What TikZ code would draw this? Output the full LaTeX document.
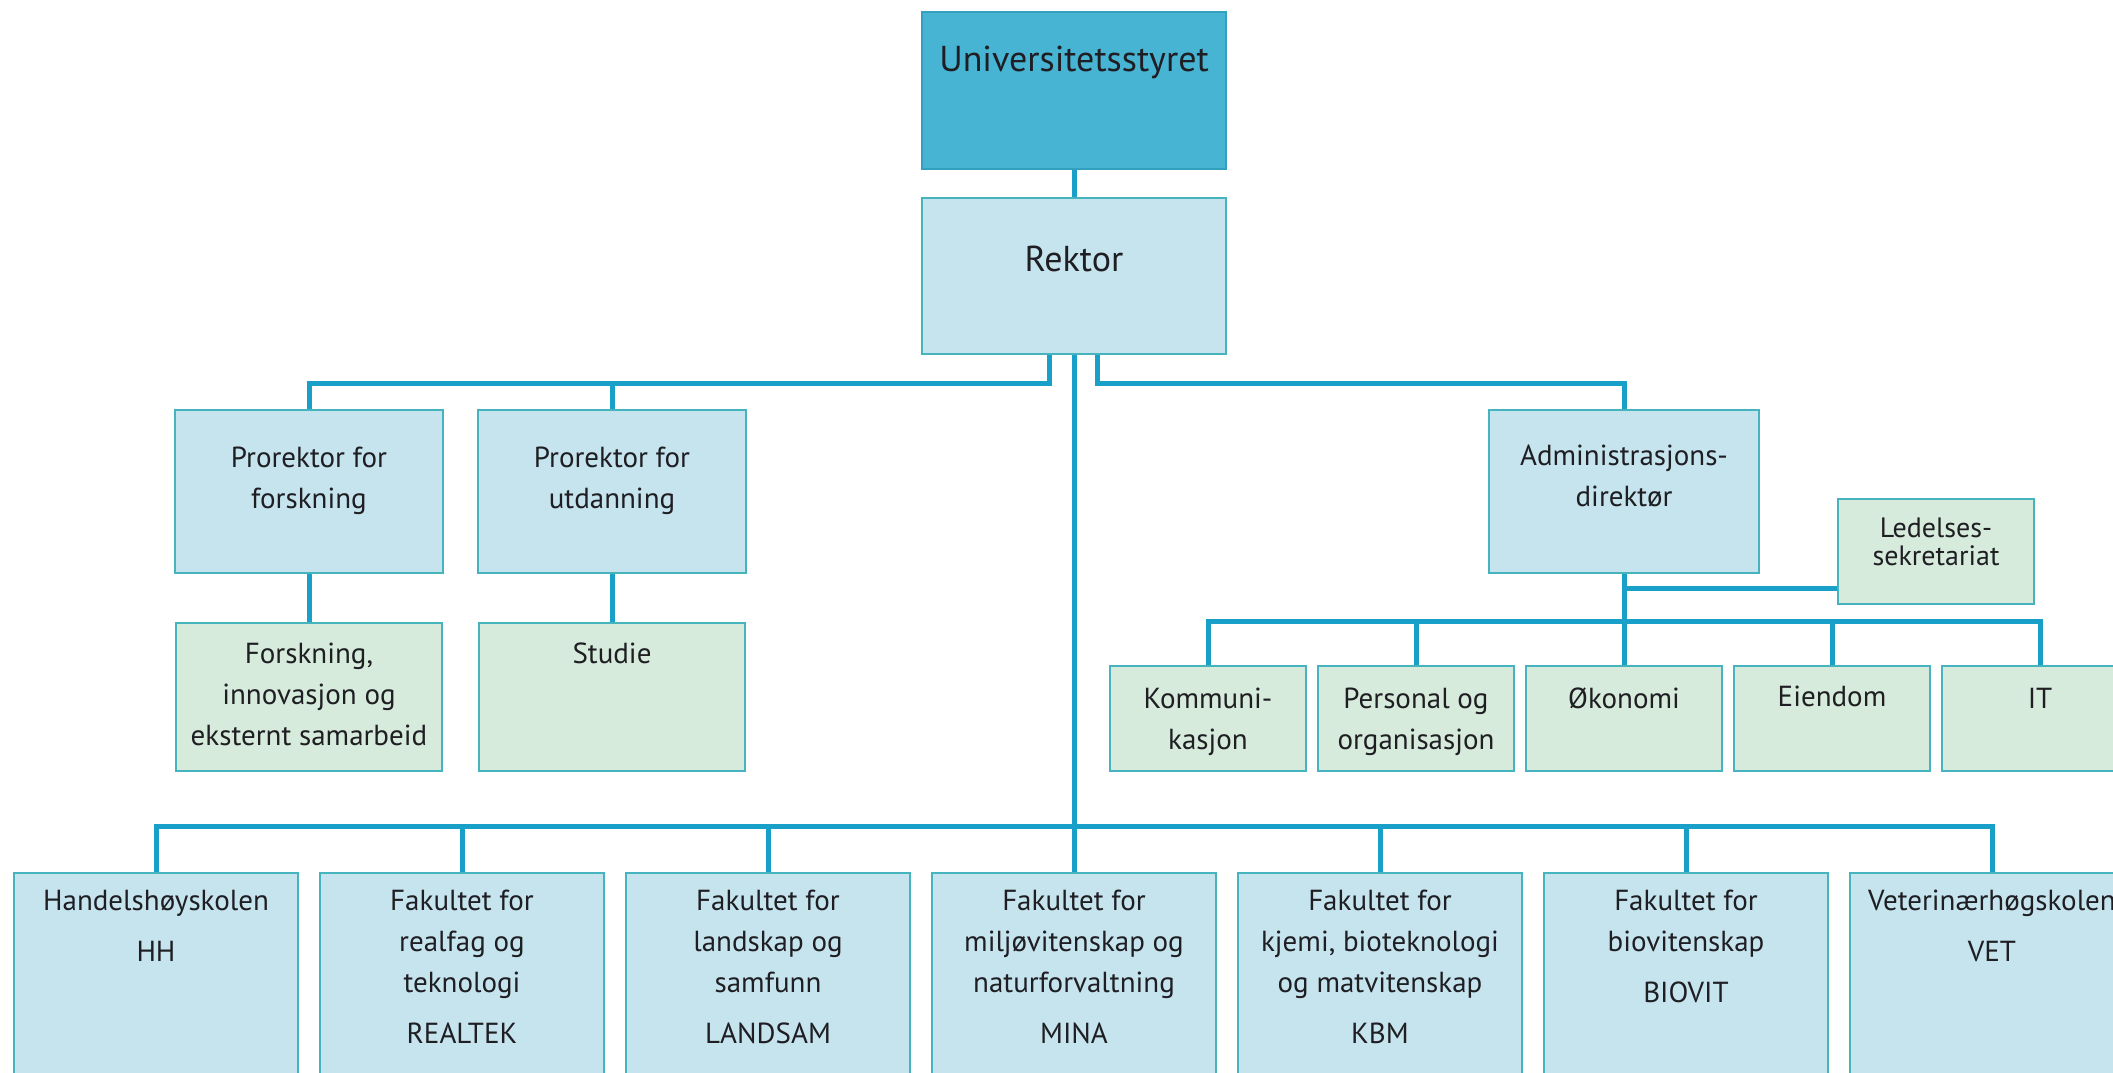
\documentclass[tikz,border=0pt]{standalone}
\usepackage{fontspec}
\setmainfont{PT Sans}
\usetikzlibrary{calc}
\definecolor{conncol}{RGB}{25,160,200}
\definecolor{edgecol}{RGB}{70,180,190}
\definecolor{topfill}{RGB}{72,180,212}
\definecolor{topedge}{RGB}{50,160,190}
\definecolor{bluefill}{RGB}{198,228,238}
\definecolor{greenfill}{RGB}{214,235,219}
\definecolor{txtcol}{RGB}{30,30,35}
\newcommand\firstln{\rule{0pt}{30pt}}
\begin{document}
\begin{tikzpicture}[x=1pt,y=-1pt,
  boxbase/.style={rectangle, inner sep=0pt, draw=edgecol, line width=1.3pt},
  topbox/.style={boxbase, fill=topfill, draw=topedge},
  bluebox/.style={boxbase, fill=bluefill},
  greenbox/.style={boxbase, fill=greenfill},
  conn/.style={draw=conncol, line width=5pt},
  bodytext/.style={inner sep=0pt, anchor=north, align=center, text=txtcol,
    font=\fontsize{29}{41}\selectfont},
  smalltext/.style={bodytext, font=\fontsize{28}{28}\selectfont},
  bigtext/.style={inner sep=0pt, anchor=base, text=txtcol, font=\fontsize{36}{40}\selectfont}
]
\useasboundingbox (0,0) rectangle (2113,1073);
\clip (0,0) rectangle (2113,1073);
\fill[white] (0,0) rectangle (2113,1073);

% ---- boxes ----
\node[topbox, minimum width=304, minimum height=157] (univ) at (1074,90.5) {};
\node[bluebox, minimum width=304, minimum height=156] (rektor) at (1074,276) {};

\node[bluebox, minimum width=268, minimum height=163] (prf) at (309,491.5) {};
\node[bluebox, minimum width=268, minimum height=163] (pru) at (612,491.5) {};
\node[greenbox, minimum width=266, minimum height=148] (fik) at (309,697) {};
\node[greenbox, minimum width=266, minimum height=148] (stud) at (612,697) {};

\node[bluebox, minimum width=270, minimum height=163] (adm) at (1624,491.5) {};
\node[greenbox, minimum width=196, minimum height=105] (led) at (1936,551.5) {};
\node[greenbox, minimum width=196, minimum height=105] (kom) at (1208,718.5) {};
\node[greenbox, minimum width=196, minimum height=105] (pers) at (1416,718.5) {};
\node[greenbox, minimum width=196, minimum height=105] (oko) at (1624,718.5) {};
\node[greenbox, minimum width=196, minimum height=105] (eien) at (1832,718.5) {};
\node[greenbox, minimum width=196, minimum height=105] (it) at (2040,718.5) {};

\node[bluebox, minimum width=284, minimum height=237] (hh) at (156,991.5) {};
\node[bluebox, minimum width=284, minimum height=237] (realtek) at (462,991.5) {};
\node[bluebox, minimum width=284, minimum height=237] (landsam) at (768,991.5) {};
\node[bluebox, minimum width=284, minimum height=237] (mina) at (1074,991.5) {};
\node[bluebox, minimum width=284, minimum height=237] (kbm) at (1380,991.5) {};
\node[bluebox, minimum width=284, minimum height=237] (biovit) at (1686,991.5) {};
\node[bluebox, minimum width=284, minimum height=237] (vet) at (1992,991.5) {};

% ---- bus coordinates ----
\coordinate (upbus) at (0,383);
\coordinate (admbus) at (0,621);
\coordinate (facbus) at (0,826);
\coordinate (ledj) at ($(led.south west)+(0,-16)$);

% ---- connectors ----
\draw[conn] (univ.south) -- (rektor.north);
\draw[conn] ([xshift=-25pt]rektor.south) -- ([xshift=-25pt]rektor.south |- upbus) -| (prf.north);
\draw[conn] (pru.north) -- (pru.north |- upbus);
\draw[conn] ([xshift=23pt]rektor.south) -- ([xshift=23pt]rektor.south |- upbus) -| (adm.north);
\draw[conn] (prf.south) -- (fik.north);
\draw[conn] (pru.south) -- (stud.north);

\draw[conn] (adm.south) -- (adm.south |- admbus);
\draw[conn] (ledj) -- (adm.south |- ledj);
\draw[conn] (kom.north) |- (it.north |- admbus) -- (it.north);
\draw[conn] (pers.north) -- (pers.north |- admbus);
\draw[conn] (oko.north) -- (oko.north |- admbus);
\draw[conn] (eien.north) -- (eien.north |- admbus);

\draw[conn] (rektor.south) -- (mina.north);
\draw[conn] (hh.north) |- (vet.north |- facbus) -- (vet.north);
\draw[conn] (realtek.north) -- (realtek.north |- facbus);
\draw[conn] (landsam.north) -- (landsam.north |- facbus);
\draw[conn] (kbm.north) -- (kbm.north |- facbus);
\draw[conn] (biovit.north) -- (biovit.north |- facbus);

% ---- texts ----
\node[bigtext] (t-univ) at (1074,72) {Universitetsstyret};
\node[bigtext] (t-rektor) at (1074,271) {Rektor};

\node[bodytext] (t-prf) at ($(prf.north)+(0,28)$) {\firstln Prorektor for\\forskning};
\node[bodytext] (t-pru) at ($(pru.north)+(0,28)$) {\firstln Prorektor for\\utdanning};
\node[bodytext] (t-fik) at ($(fik.north)+(0,11)$) {\firstln Forskning,\\innovasjon og\\eksternt samarbeid};
\node[bodytext] (t-stud) at ($(stud.north)+(0,11)$) {\firstln Studie};

\node[bodytext] (t-adm) at ($(adm.north)+(0,26)$) {\firstln Administrasjons-\\direktør};
\node[smalltext] (t-led) at ($(led.north)+(0,9)$) {\firstln Ledelses-\\sekretariat};
\node[bodytext] (t-kom) at ($(kom.north)+(0,13)$) {\firstln Kommuni-\\kasjon};
\node[bodytext] (t-pers) at ($(pers.north)+(0,13)$) {\firstln Personal og\\organisasjon};
\node[bodytext] (t-oko) at ($(oko.north)+(0,13)$) {\firstln Økonomi};
\node[bodytext] (t-eien) at ($(eien.north)+(0,11)$) {\firstln Eiendom};
\node[bodytext] (t-it) at ($(it.north)+(0,13)$) {\firstln IT};

\node[bodytext] (t-hh) at ($(hh.north)+(0,8)$) {\firstln Handelshøyskolen\\[10pt]HH};
\node[bodytext] (t-realtek) at ($(realtek.north)+(0,8)$) {\firstln Fakultet for\\realfag og\\teknologi\\[10pt]REALTEK};
\node[bodytext] (t-landsam) at ($(landsam.north)+(0,8)$) {\firstln Fakultet for\\landskap og\\samfunn\\[10pt]LANDSAM};
\node[bodytext] (t-mina) at ($(mina.north)+(0,8)$) {\firstln Fakultet for\\miljøvitenskap og\\naturforvaltning\\[10pt]MINA};
\node[bodytext] (t-kbm) at ($(kbm.north)+(0,8)$) {\firstln Fakultet for\\kjemi, bioteknologi\\og matvitenskap\\[10pt]KBM};
\node[bodytext] (t-biovit) at ($(biovit.north)+(0,8)$) {\firstln Fakultet for\\biovitenskap\\[10pt]BIOVIT};
\node[bodytext] (t-vet) at ($(vet.north)+(0,8)$) {\firstln Veterinærhøgskolen\\[10pt]VET};
\end{tikzpicture}
\end{document}
